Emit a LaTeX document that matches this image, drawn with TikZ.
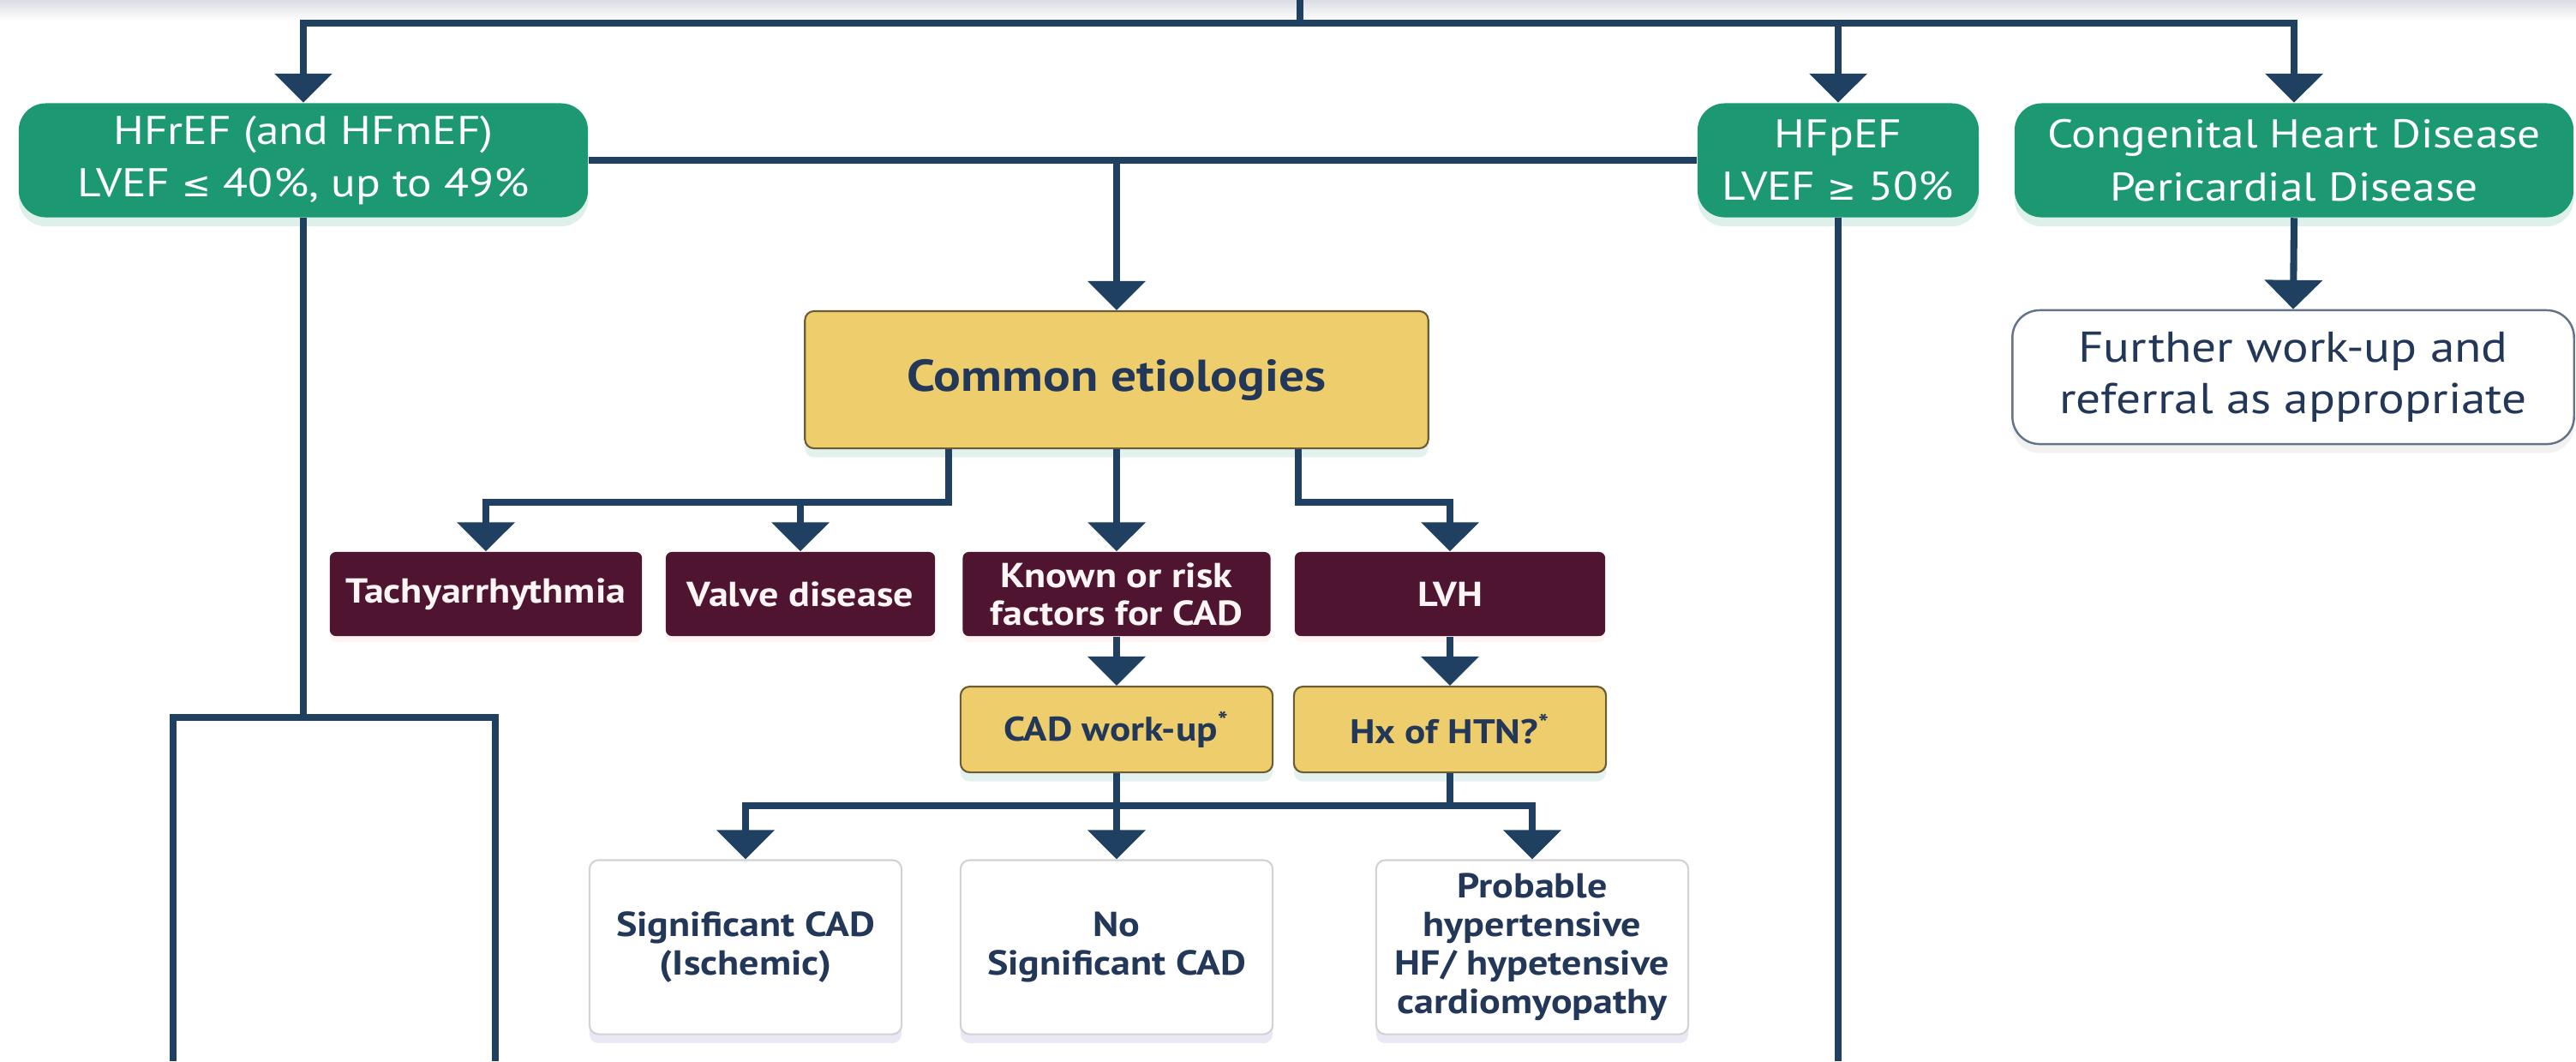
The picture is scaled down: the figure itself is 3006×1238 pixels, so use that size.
\documentclass[tikz,border=0pt]{standalone}
\usepackage{fontspec}
\setmainfont{PT Sans}[FakeStretch=1.14]
\newfontfamily\symfont{DejaVu Sans}
\usetikzlibrary{arrows.meta,positioning,shadows}
\definecolor{linenavy}{RGB}{31,64,96}
\definecolor{textnavy}{RGB}{35,55,88}
\definecolor{hfgreen}{RGB}{28,152,114}
\definecolor{causemaroon}{RGB}{78,20,48}
\definecolor{etioyellow}{RGB}{238,205,108}
\definecolor{topgray}{RGB}{218,221,226}
\tikzset{
  box/.style={align=center, inner sep=0pt, text=textnavy},
  hfbox/.style={box, fill=hfgreen, text=white, rounded corners=9pt, minimum height=1.33cm,
    font=\fontsize{13.3}{17.5}\selectfont, drop shadow={shadow xshift=0pt, shadow yshift=-3pt, opacity=0.15, fill=hfgreen}},
  etiobox/.style={box, fill=etioyellow, draw=etioyellow!45!black, line width=0.6pt, rounded corners=3pt,
    font=\bfseries\fontsize{11.3}{13}\selectfont, drop shadow={shadow xshift=0pt, shadow yshift=-3pt, opacity=0.12, fill=hfgreen}},
  causebox/.style={box, fill=causemaroon, text=red!4, rounded corners=2pt, minimum height=0.98cm,
    font=\bfseries\fontsize{11.5}{12.5}\selectfont, drop shadow={shadow xshift=0pt, shadow yshift=-2pt, opacity=0.12, fill=red!40}},
  resultbox/.style={box, fill=white, draw=gray!35, line width=0.6pt, rounded corners=3pt,
    minimum width=3.64cm, minimum height=2.03cm, font=\bfseries\fontsize{11.5}{12.8}\selectfont,
    drop shadow={shadow xshift=0pt, shadow yshift=-3pt, opacity=0.12, fill=blue!40!gray}},
  notebox/.style={box, fill=white, draw=textnavy!70, line width=0.7pt, rounded corners=9pt,
    font=\fontsize{14.3}{17}\selectfont, drop shadow={shadow xshift=0pt, shadow yshift=-3pt, opacity=0.1, fill=gray}},
  link/.style={draw=linenavy, line width=2.3pt},
  arrow/.style={link, -{Triangle[length=3.4mm,width=6.6mm]}}
}

\begin{document}
\begin{tikzpicture}[x=0.01cm, y=-0.01cm]
  \useasboundingbox (0,0) rectangle (3006,1238);
  \shade[top color=topgray, bottom color=white] (0,0) rectangle (3006,24);

  % heart failure types
  \node[hfbox, minimum width=6.64cm] (hfref) at (354,187) {HFrEF (and HFmEF)\\LVEF {\symfont\fontsize{11.5}{17}\selectfont ≤} 40\%, up to 49\%};
  \node[hfbox, minimum width=3.28cm] (hfpef) at (2145,187) {HFpEF\\LVEF {\symfont\fontsize{11.5}{17}\selectfont ≥} 50\%};
  \node[hfbox, minimum width=6.52cm] (chd) at (2677,187) {Congenital Heart Disease\\Pericardial Disease};
  \node[notebox, minimum width=6.55cm, minimum height=1.56cm] (further) at (2676,440) {Further work-up and\\referral as appropriate};

  % etiologies
  \node[etiobox, minimum width=7.27cm, minimum height=1.6cm, font=\bfseries\fontsize{14.8}{17}\selectfont] (common) at (1303,443) {Common etiologies};
  \node[causebox, minimum width=3.64cm] (tachy) at (567,693) {Tachyarrhythmia};
  \node[causebox, minimum width=3.14cm] (valve) at (934,693) {Valve disease};
  \node[causebox, minimum width=3.59cm] (known) at (1303,693) {Known or risk\\factors for CAD};
  \node[causebox, minimum width=3.62cm] (lvh) at (1692,693) {LVH};
  \node[etiobox, minimum width=3.64cm, minimum height=1cm] (cadwork) at (1303,851) {CAD work-up\textsuperscript{*}};
  \node[etiobox, minimum width=3.64cm, minimum height=1cm] (htn) at (1692,851) {Hx of HTN?\textsuperscript{*}};

  % outcomes
  \node[resultbox] (sigcad) at (870,1105) {Significant CAD\\(Ischemic)};
  \node[resultbox] (nosig) at (1303,1105) {No\\Significant CAD};
  \node[resultbox] (probable) at (1788,1105) {Probable\\hypertensive\\HF/ hypetensive\\cardiomyopathy};

  % connectors
  \coordinate (topin) at (1517,0);
  \coordinate (bus) at (1517,27);
  \draw[link] (topin) -- (bus);
  \draw[arrow] (bus) -| (hfref.north);
  \draw[arrow] (bus) -| (chd.north);
  \draw[arrow] (hfpef.north |- bus) -- (hfpef.north);
  \draw[link] (hfref.east) -- (hfpef.west);
  \draw[arrow] (common.north |- hfref.east) -- (common.north);
  \draw[arrow] (chd.south) -- (further.north);

  \coordinate (lbar) at (354,837);
  \coordinate (lleft) at (202,1238);
  \coordinate (lright) at (578,1238);
  \draw[link] (hfref.south) -- (lbar);
  \draw[link] (lleft) -- (lleft |- lbar) -- (lright |- lbar) -- (lright);
  \coordinate (pefend) at (hfpef.south |- lleft);
  \draw[link] (hfpef.south) -- (pefend);

  \coordinate (cbus) at (0,586);
  \draw[arrow] ([xshift=-1.96cm]common.south) |- (tachy.north |- cbus) -- (tachy.north);
  \draw[arrow] (valve.north |- cbus) -- (valve.north);
  \draw[arrow] (common.south) -- (known.north);
  \draw[arrow] ([xshift=2.12cm]common.south) |- (lvh.north |- cbus) -- (lvh.north);
  \draw[arrow] (known) -- (cadwork);
  \draw[arrow] (lvh) -- (htn);

  \coordinate (rbus) at (0,940);
  \draw[arrow] (cadwork.south) |- (sigcad.north |- rbus) -- (sigcad.north);
  \draw[arrow] (htn.south) |- (probable.north |- rbus) -- (probable.north);
  \draw[link] (cadwork.south |- rbus) -- (htn.south |- rbus);
  \draw[arrow] (nosig.north |- rbus) -- (nosig.north);
\end{tikzpicture}
\end{document}
